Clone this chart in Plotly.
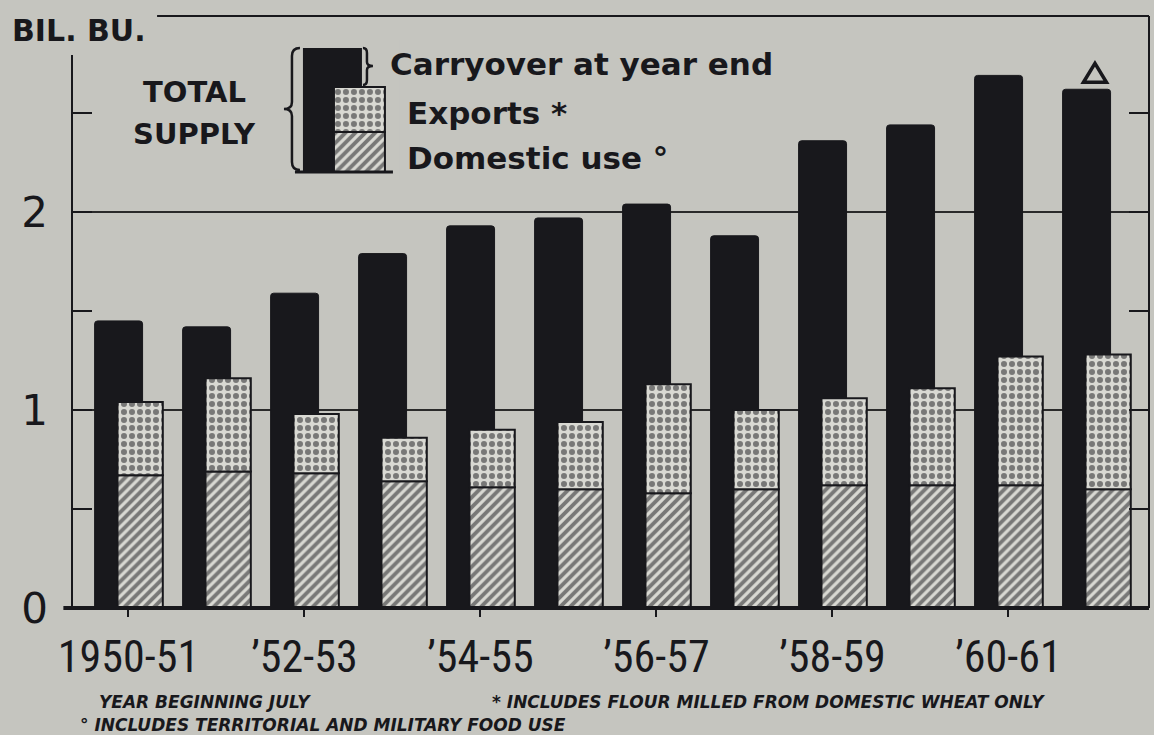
import plotly.graph_objects as go

# ---------------- data (billion bushels) ----------------
years = ["1950-51", "1951-52", "1952-53", "1953-54", "1954-55", "1955-56",
         "1956-57", "1957-58", "1958-59", "1959-60", "1960-61", "1961-62"]
total_supply = [1.45, 1.42, 1.59, 1.79, 1.93, 1.97, 2.04, 1.88, 2.36, 2.44, 2.69, 2.62]
domestic_use = [0.67, 0.69, 0.68, 0.64, 0.61, 0.60, 0.58, 0.60, 0.62, 0.62, 0.62, 0.60]
exports = [0.37, 0.47, 0.30, 0.22, 0.29, 0.34, 0.55, 0.40, 0.44, 0.49, 0.65, 0.68]
tick_years = ["1950-51", "1952-53", "1954-55", "1956-57", "1958-59", "1960-61"]
tick_text = ["1950-51", "\u201952-53", "\u201954-55", "\u201956-57", "\u201958-59", "\u201960-61"]

# ---------------- style ----------------
PAGE = "#c5c5bf"
INK = "#18181c"
LIGHT = "#d9d9d3"
HEAD_FONT = "DejaVu Sans"
TICK_FONT = "Roboto Condensed, DejaVu Sans Condensed, Liberation Sans Narrow, Liberation Sans"

hatch = dict(shape="/", fgcolor=INK, bgcolor=LIGHT, size=7, solidity=0.55)
dots = dict(shape=".", fgcolor=INK, bgcolor=LIGHT, size=8, solidity=0.45)

fig = go.Figure()

# total supply (black, behind)
fig.add_trace(go.Bar(x=years, y=total_supply, name="Carryover at year end",
                     offset=-0.385, width=0.545,
                     marker=dict(color=INK, line=dict(color=INK, width=1), cornerradius=3)))
# domestic use (hatched)
fig.add_trace(go.Bar(x=years, y=domestic_use, name="Domestic use",
                     offset=-0.125, width=0.515,
                     marker=dict(color=LIGHT, pattern=hatch, line=dict(color=INK, width=2))))
# exports (dotted) stacked on domestic use
fig.add_trace(go.Bar(x=years, y=exports, base=domestic_use, name="Exports",
                     offset=-0.125, width=0.515,
                     marker=dict(color=LIGHT, pattern=dots, line=dict(color=INK, width=2))))

# ---------------- legend key (inset, pixel-like units) ----------------
key_x = [332.5, 359.5, 359.5]
key_w = [59, 51, 51]
key_h = [124, 40, 45]
key_base = [8, 8, 48]
fig.add_trace(go.Bar(x=[key_x[0]], y=[key_h[0]], base=[key_base[0]], width=[key_w[0]],
                     xaxis="x2", yaxis="y2", marker=dict(color=INK, line=dict(width=0)),
                     hoverinfo="skip"))
fig.add_trace(go.Bar(x=[key_x[1]], y=[key_h[1]], base=[key_base[1]], width=[key_w[1]],
                     xaxis="x2", yaxis="y2",
                     marker=dict(color=LIGHT, pattern=hatch, line=dict(color=INK, width=2)),
                     hoverinfo="skip"))
fig.add_trace(go.Bar(x=[key_x[2]], y=[key_h[2]], base=[key_base[2]], width=[key_w[2]],
                     xaxis="x2", yaxis="y2",
                     marker=dict(color=LIGHT, pattern=dots, line=dict(color=INK, width=2)),
                     hoverinfo="skip"))

shapes = [
    # frame
    dict(type="line", xref="paper", yref="paper", x0=0, x1=0, y0=0, y1=0.934,
         line=dict(color=INK, width=2)),
    dict(type="line", xref="paper", yref="paper", x0=0.079, x1=1, y0=1, y1=1,
         line=dict(color=INK, width=2)),
    dict(type="line", xref="paper", yref="paper", x0=1, x1=1, y0=0, y1=1,
         line=dict(color=INK, width=2)),
    dict(type="line", xref="paper", yref="paper", x0=-0.008, x1=1, y0=0, y1=0,
         line=dict(color=INK, width=4)),
    # legend key base line and braces
    dict(type="line", xref="x2", yref="y2", x0=295, x1=393, y0=8, y1=8,
         line=dict(color=INK, width=3)),
    dict(type="path", xref="x2", yref="y2",
         path="M 300,132 C 294,132 292,129 292,124 L 292,78 C 292,73 289,71 284,71 "
              "C 289,71 292,69 292,64 L 292,18 C 292,13 294,10 300,10",
         line=dict(color=INK, width=2.5)),
    dict(type="path", xref="x2", yref="y2",
         path="M 363,132 C 366,132 367,130 367,127 L 367,118 C 367,115 369,114 373,114 "
              "C 369,114 367,113 367,110 L 367,100 C 367,97 366,95 363,95",
         line=dict(color=INK, width=2.5)),
    # open triangle marker above the last bar (pixel offsets from bar top)
    dict(type="path", xref="x", yref="y", xsizemode="pixel", ysizemode="pixel",
         xanchor=years[-1], yanchor=total_supply[-1],
         path="M -13,7 L -1.5,26 L 10,7 Z", line=dict(color=INK, width=3.5)),
]

def ann(text, x, y, size, xanchor="left", italic=False, bold=True, family=HEAD_FONT):
    return dict(text=text, x=x, y=y, xref="paper", yref="paper", showarrow=False,
                xanchor=xanchor, yanchor="middle",
                font=dict(family=family, size=size, color=INK,
                          weight="bold" if bold else "normal",
                          style="italic" if italic else "normal"))

annotations = [
    ann("BIL. BU.", -0.0575, 0.976, 30),
    ann("TOTAL", 0.1142, 0.8716, 29, xanchor="center"),
    ann("SUPPLY", 0.1142, 0.8007, 29, xanchor="center"),
    ann("Carryover at year end", 0.2934, 0.9189, 31),
    ann("Exports *", 0.3092, 0.8361, 31),
    ann("Domestic use \u00b0", 0.3092, 0.7601, 31),
    ann("YEAR BEGINNING JULY", 0.0232, -0.1588, 17, italic=True),
    ann("* INCLUDES FLOUR MILLED FROM DOMESTIC WHEAT ONLY", 0.388, -0.1588, 17, italic=True),
    ann("\u00b0 INCLUDES TERRITORIAL AND MILITARY FOOD USE", 0.0056, -0.198, 17, italic=True),
]

fig.update_layout(
    width=1154, height=735,
    margin=dict(l=72, r=5, t=16, b=127),
    paper_bgcolor=PAGE, plot_bgcolor=PAGE,
    barmode="overlay", showlegend=False,
    shapes=shapes, annotations=annotations,
    xaxis=dict(type="category", range=[-0.642, 11.597], tickmode="array",
               tickvals=tick_years, ticktext=tick_text, ticks="outside", ticklen=8,
               tickwidth=2, tickcolor=INK, showgrid=False, showline=False, zeroline=False,
               tickfont=dict(family=TICK_FONT, size=44, color=INK),
               ticklabelstandoff=2),
    yaxis=dict(range=[0, 2.99], tickmode="array", tickvals=[0, 1, 2], ticktext=["0", "1", "2"],
               ticks="inside", ticklen=20, tickwidth=2, tickcolor=INK, mirror="ticks",
               showline=False, zeroline=False, showgrid=True, gridcolor="#2a2a2a", gridwidth=2,
               minor=dict(tickvals=[0.5, 1.5, 2.5], ticks="inside", ticklen=20, tickwidth=2,
                          tickcolor=INK, showgrid=False),
               tickfont=dict(family=HEAD_FONT, size=42, color=INK), ticklabelstandoff=23),
    xaxis2=dict(domain=[0.1838, 0.3045], range=[270, 400], anchor="y2", visible=False),
    yaxis2=dict(domain=[0.723, 0.9595], range=[0, 140], anchor="x2", visible=False),
)

fig.write_html("out.html", config={"displayModeBar": False},
               post_script="document.body.style.margin='0';document.body.style.overflow='hidden';")
